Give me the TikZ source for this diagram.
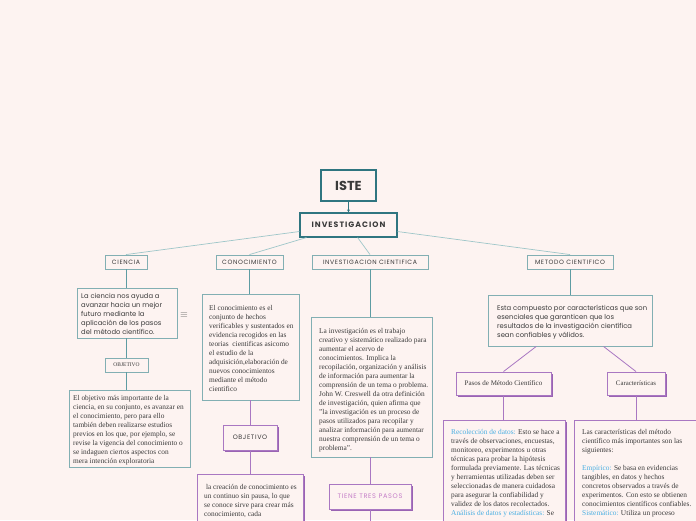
\documentclass[tikz,border=0pt]{standalone}
\usepackage{fontspec}
\setmainfont{Liberation Serif}
\newfontfamily\pop{Poppins}
\newfontfamily\popsp[LetterSpace=10]{Poppins}
\newfontfamily\popwide[LetterSpace=13]{Poppins}
\usetikzlibrary{shadows,arrows.meta}
\definecolor{bg}{HTML}{FDF3F1}
\definecolor{tealdk}{HTML}{2F7580}
\definecolor{tealbx}{HTML}{82AFB3}
\definecolor{tealln}{HTML}{5E9CA3}
\definecolor{tealtop}{HTML}{9EC6C9}
\definecolor{purp}{HTML}{A977C2}
\definecolor{purpsh}{HTML}{9A63B3}
\definecolor{txt}{HTML}{3A3A3A}
\definecolor{bluet}{HTML}{4AAFE2}
\definecolor{pinkt}{HTML}{C57EC8}
\tikzset{
  tbox/.style={draw=tealbx, line width=0.9pt, fill=bg, inner sep=0pt},
  lab/.style={tbox, text=txt, minimum height=14pt, font=\popsp\fontsize{6.2}{7}\selectfont},
  pbox/.style={draw=purp, line width=0.9pt, fill=bg, inner sep=0pt, text=txt, align=center,
    drop shadow={shadow xshift=1.6pt, shadow yshift=-1.6pt, fill=purpsh, opacity=1}},
  ptbox/.style={pbox},
  body/.style={anchor=north west, inner sep=0pt, align=left, text=txt},
  sertext/.style={body, font=\fontsize{7.35}{9}\selectfont},
  santext/.style={body, font=\pop\fontsize{6.8}{9}\selectfont},
  tline/.style={draw=tealln, line width=0.7pt},
  topline/.style={draw=tealtop, line width=0.7pt},
  pline/.style={draw=purp, line width=0.8pt},
}
\begin{document}
\begin{tikzpicture}[x=1pt,y=-1pt]
\clip (0,0) rectangle (696,520);
\fill[bg] (0,0) rectangle (696,520);

% top
\node[draw=tealdk, line width=1.6pt, fill=bg, minimum width=55pt, minimum height=31pt, text=txt,
  font=\pop\bfseries\fontsize{13}{14}\selectfont] (iste) at (348.5,185.5) {ISTE};
\node[draw=tealdk, line width=1.1pt, fill=bg, minimum width=97pt, minimum height=24pt, text=txt,
  font=\popwide\bfseries\fontsize{7.8}{8}\selectfont] (inv) at (348.5,225) {INVESTIGACION};
\draw[draw=tealdk, line width=0.8pt, -{Stealth[length=3pt,width=3pt]}] (iste) -- (inv);

% second level labels
\node[lab, minimum width=42pt] (cien) at (126,262) {CIENCIA};
\node[lab, minimum width=67pt] (cono) at (249.5,262) {CONOCIMIENTO};
\node[lab, minimum width=116pt] (invc) at (370,262) {INVESTIGACION CIENTIFICA};
\node[lab, minimum width=86pt] (meto) at (570,262) {METODO CIENTIFICO};
\draw[topline] (inv) -- (cien.north);
\draw[topline] (inv) -- (cono.north);
\draw[topline] (inv) -- (invc.north);
\draw[topline] (inv) -- (meto.north);

% CIENCIA branch
\node[tbox, minimum width=100pt, minimum height=50pt] (cient) at (127,313) {};
\node[santext] (cient-t) at (81,291.7)
 {\strut La ciencia nos ayuda a\\avanzar hacia un mejor\\futuro mediante la\\aplicación de los pasos\\del método científico.};
\node[text=txt!80, font=\fontsize{10}{10}\selectfont] (menu) at (184,315) {$\equiv$};
\node[tbox, text=txt, minimum width=43pt, minimum height=14pt, font=\fontsize{5.5}{6}\selectfont] (oj1) at (126.5,365) {OBJETIVO};
\node[tbox, minimum width=121pt, minimum height=77pt] (cobj1) at (129.5,428.5) {};
\node[sertext] (cobj1-t) at (73,393.7)
 {\strut El objetivo más importante de la\\ciencia, en su conjunto, es avanzar en\\el conocimiento, pero para ello\\también deben realizarse estudios\\previos en los que, por ejemplo, se\\revise la vigencia del conocimiento o\\se indaguen ciertos aspectos con\\mera intención exploratoria};
\draw[tline] (cien.south) -- (cien.south |- cient.north);
\draw[tline] (oj1.north |- cient.south) -- (oj1.north);
\draw[tline] (oj1.south) -- (oj1.south |- cobj1.north);

% CONOCIMIENTO branch
\node[tbox, minimum width=97pt, minimum height=106pt] (conot) at (250.5,347) {};
\node[sertext] (conot-t) at (209,304.2)
 {\strut El conocimiento es el\\conjunto de hechos\\verificables y sustentados en\\evidencia recogidos en las\\teorias\ \ cientificas asicomo\\el estudio de la\\adquisición,elaboración de\\nuevos conocimientos\\mediante el método\\cientifico};
\node[pbox, minimum width=54pt, minimum height=25pt, font=\popsp\fontsize{6.4}{7}\selectfont] (oj2) at (250,437.5) {OBJETIVO};
\node[ptbox, minimum width=106pt, minimum height=66pt] (cobj2) at (250,507) {};
\node[sertext] (cobj2-t) at (204,483.2)
 {\strut\ la creación de conocimiento es\\un continuo sin pausa, lo que\\se conoce sirve para crear más\\conocimiento, cada};
\draw[tline] (cono.south) -- (cono.south |- conot.north);
\draw[pline] (oj2.north |- conot.south) -- (oj2.north);
\draw[pline] (oj2.south) -- (oj2.south |- cobj2.north);

% INVESTIGACION CIENTIFICA branch
\node[tbox, minimum width=121pt, minimum height=140pt] (invt) at (371.5,387) {};
\node[sertext] (invt-t) at (319,326.7)
 {\strut La investigación es el trabajo\\creativo y sistemático realizado para\\aumentar el acervo de\\conocimientos. Implica la\\recopilación, organización y análisis\\de información para aumentar la\\comprensión de un tema o problema.\\John W. Creswell da otra definición\\de investigación, quien afirma que\\"la investigación es un proceso de\\pasos utilizados para recopilar y\\analizar información para aumentar\\nuestra comprensión de un tema o\\problema".};
\node[pbox, minimum width=82pt, minimum height=25pt, text=pinkt, font=\popsp\fontsize{6.6}{7}\selectfont] (tiene) at (370,496.5) {TIENE TRES PASOS};
\coordinate (tend) at (370,530);
\draw[tline] (invc.south) -- (invc.south |- invt.north);
\draw[pline] (tiene.north |- invt.south) -- (tiene.north);
\draw[pline] (tiene.south) -- (tend);

% METODO CIENTIFICO branch
\node[tbox, minimum width=164pt, minimum height=51pt] (metot) at (570,320.5) {};
\node[santext] (metot-t) at (497,303.7)
 {\strut Esta compuesto por características que son\\esenciales que garanticen que los\\resultados de la investigación científica\\sean confiables y válidos.};
\node[pbox, minimum width=95pt, minimum height=23pt, font=\fontsize{7}{8}\selectfont] (pasos) at (503.5,383.5) {Pasos de Método Científico};
\node[pbox, minimum width=58pt, minimum height=23pt, font=\fontsize{6.8}{8}\selectfont] (carac) at (636,383.5) {Características};
\draw[tline] (meto.south) -- (meto.south |- metot.north);
\draw[pline] (metot) -- (pasos.north);
\draw[pline] (metot) -- (carac.north);
\node[ptbox, minimum width=122pt, minimum height=140pt] (pasost) at (504,490) {};
\node[sertext] (pasost-t) at (451,428.2)
 {\strut\textcolor{bluet}{Recolección de datos:} Esto se hace a\\través de observaciones, encuestas,\\monitoreo, experimentos u otras\\técnicas para probar la hipótesis\\formulada previamente. Las técnicas\\y herramientas utilizadas deben ser\\seleccionadas de manera cuidadosa\\para asegurar la confiabilidad y\\validez de los datos recolectados.\\\textcolor{bluet}{Análisis de datos y estadísticas:} Se};
\node[ptbox, minimum width=136pt, minimum height=140pt] (caract) at (642,490) {};
\node[sertext] (caract-t) at (582,428.2)
 {\strut Las características del método\\científico más importantes son las\\siguientes:\\[9pt]\textcolor{bluet}{Empírico:} Se basa en evidencias\\tangibles, en datos y hechos\\concretos observados a través de\\experimentos. Con esto se obtienen\\conocimientos científicos confiables.\\\textcolor{bluet}{Sistemático:} Utiliza un proceso};
\draw[pline] (pasos.south) -- (pasos.south |- pasost.north);
\draw[pline] (carac.south) -- (carac.south |- caract.north);
\end{tikzpicture}
\end{document}
